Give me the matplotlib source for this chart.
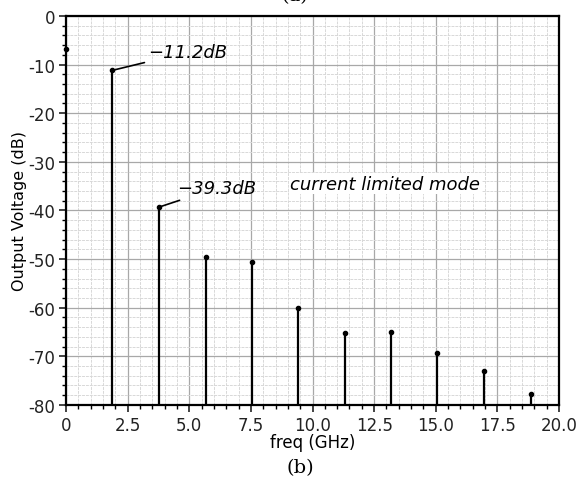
import matplotlib
matplotlib.use("Agg")
import matplotlib.pyplot as plt
from matplotlib.ticker import MultipleLocator

plt.rcParams["axes.unicode_minus"] = False

freq_ghz = [1.87, 3.78, 5.68, 7.53, 9.42, 11.31, 13.17, 15.07, 16.96, 18.86]
level_db = [-11.2, -39.3, -49.6, -50.5, -60.0, -65.3, -65.0, -69.3, -73.0, -77.7]
dc_freq = [0.0]
dc_level = [-6.8]
xticks = [0, 2.5, 5.0, 7.5, 10.0, 12.5, 15.0, 17.5, 20.0]
xticklabels = ["0", "2.5", "5.0", "7.5", "10.0", "12.5", "15.0", "17.5", "20.0"]
yticks = [0, -10, -20, -30, -40, -50, -60, -70, -80]

fig = plt.figure(figsize=(5.79, 4.85), dpi=100)
ax = fig.add_axes([0.114, 0.163, 0.8515, 0.802])

ax.set_xlim(0, 20)
ax.set_ylim(-80, 0)
ax.set_xticks(xticks)
ax.set_xticklabels(xticklabels)
ax.set_yticks(yticks)
ax.xaxis.set_minor_locator(MultipleLocator(0.5))
ax.yaxis.set_minor_locator(MultipleLocator(2))
ax.grid(which="major", color="#a8a8a8", linewidth=0.9)
ax.grid(which="minor", color="#d8d8d8", linewidth=0.7, linestyle=(0, (3, 1)))
ax.set_axisbelow(True)

ax.vlines(freq_ghz, -80, level_db, color="black", linewidth=1.6, zorder=3)
ax.plot(freq_ghz, level_db, "o", color="black", markersize=3, zorder=4)
ax.plot(dc_freq, dc_level, "o", color="black", markersize=3, zorder=4, clip_on=False)

for s in ax.spines.values():
    s.set_linewidth(1.6)
    s.set_color("black")

ax.tick_params(which="major", direction="out", length=5, width=1.2, labelsize=12,
               colors="#222222", pad=3)
ax.tick_params(which="minor", direction="out", length=3, width=1.0)

ax.set_xlabel("freq (GHz)", fontsize=12, labelpad=-1)
ax.set_ylabel("Output Voltage (dB)", fontsize=11.5, labelpad=1)

ax.annotate("\u221211.2dB", xy=(freq_ghz[0], level_db[0]), xytext=(3.35, -7.4),
            fontsize=13, style="italic", ha="left", va="center",
            arrowprops=dict(arrowstyle="-", color="black", lw=1.2, shrinkA=1, shrinkB=0))
ax.annotate("\u221239.3dB", xy=(freq_ghz[1], level_db[1]), xytext=(4.5, -35.4),
            fontsize=13, style="italic", ha="left", va="center",
            arrowprops=dict(arrowstyle="-", color="black", lw=1.2, shrinkA=1, shrinkB=0))
ax.text(9.1, -34.5, "current limited mode", fontsize=13, style="italic", ha="left", va="center",
        bbox=dict(facecolor="white", edgecolor="none", pad=1))

fig.text(0.51, 1.008, "(a)", fontsize=14, family="DejaVu Serif", ha="center", va="center")
fig.text(0.518, 0.035, "(b)", fontsize=14, family="DejaVu Serif", ha="center", va="center")

fig.savefig("out.png", dpi=100)
